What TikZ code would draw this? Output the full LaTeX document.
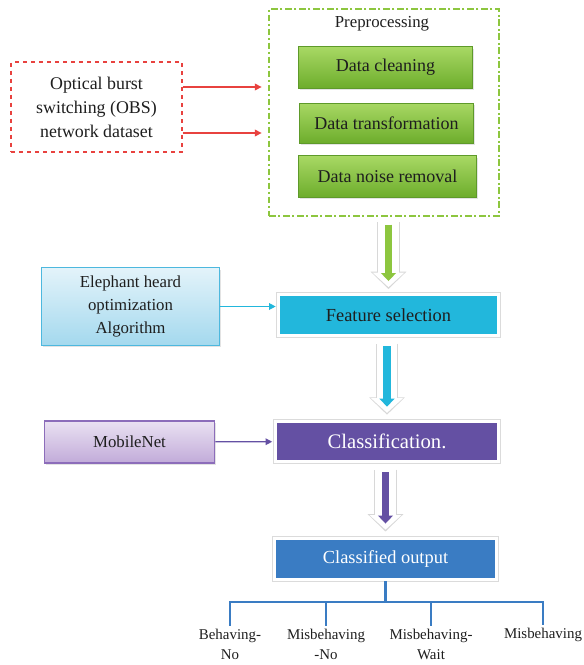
\documentclass[tikz,border=0pt]{standalone}
\usepackage{fontspec}
\setmainfont{Liberation Serif}
\usetikzlibrary{
  arrows.meta, % For arrow tips
  shadows % For the drop shadows of the boxes
}

\definecolor{ink}{HTML}{1E1E1E}
\definecolor{obsred}{HTML}{E8423F}
\definecolor{prelime}{HTML}{8DC63F}
\definecolor{greentop}{HTML}{A8D864}
\definecolor{greenbot}{HTML}{6DAD2C}
\definecolor{greenedge}{HTML}{5E9A2A}
\definecolor{skytop}{HTML}{E3F3FA}
\definecolor{skybot}{HTML}{A4D9EE}
\definecolor{skyedge}{HTML}{4DB8DE}
\definecolor{featcyan}{HTML}{22B7DC}
\definecolor{lilactop}{HTML}{EAE1F2}
\definecolor{lilacbot}{HTML}{C1ABD9}
\definecolor{lilacedge}{HTML}{8C6DBA}
\definecolor{classpurple}{HTML}{6450A3}
\definecolor{outblue}{HTML}{3A7CC3}
\definecolor{hollowgray}{HTML}{D8D8D8}

\begin{document}
\begin{tikzpicture}[
    x=0.75pt, y=-0.75pt, % one unit is one pixel of the layout
    >={Triangle[length=5pt,width=5pt]}, % Default arrow tip
    box/.style={align=center, text=ink, inner sep=2pt},
    shade/.style={drop shadow={shadow xshift=1pt, shadow yshift=-1.3pt, opacity=.18, fill=black!60}},
    stepbox/.style={box, shade, draw=greenedge, line width=0.6pt, top color=greentop, bottom color=greenbot,
      font=\fontsize{13.5}{16}\selectfont},
    mainbox/.style={box, shade, draw=white, line width=2.2pt, fill=#1,
      preaction={draw=black!14, line width=3.6pt},
      font=\fontsize{13.8}{16}\selectfont},
    sidearrow/.style={->, line width=0.9pt},
    hollow/.style={draw=hollowgray, line width=17pt, -{Triangle[length=13pt,width=26pt]},
      postaction={draw=white, line width=15.4pt, shorten >=1.4pt, -{Triangle[length=11pt,width=23.4pt]}},
      postaction={draw=#1, line width=5.5pt, shorten <=2pt, shorten >=6pt, -{Triangle[length=6pt,width=11pt]}}},
    tree/.style={outblue, line width=1.6pt},
    leaf/.style={box, inner sep=0pt, font=\fontsize{11.2}{15}\selectfont},
  ]
  \useasboundingbox (0,0) rectangle (584,665);

  % Dataset
  \node[box, draw=obsred, dashed, line width=1.1pt, minimum width=128pt, minimum height=67.5pt,
    font=\fontsize{13.4}{18}\selectfont] (data) at (96.5,107)
    {Optical burst\\switching (OBS)\\network dataset};

  % Preprocessing group
  \node[draw=prelime, line width=1.1pt, dash pattern=on 5pt off 2pt on 1.5pt off 2pt,
    minimum width=172.5pt, minimum height=155pt] (pre) at (384,112.5) {};
  \node[box, font=\fontsize{12.6}{15}\selectfont] (prelabel) at (382,24) {Preprocessing};
  \node[stepbox, minimum width=131pt, minimum height=31pt] (clean) at (385.5,67.5) {Data cleaning};
  \node[stepbox, minimum width=131pt, minimum height=30pt] (trans) at (386.5,123) {Data transformation};
  \node[stepbox, minimum width=133pt, minimum height=31pt] (noise) at (387.5,176.5) {Data noise removal};

  \draw[sidearrow, obsred, shorten >=5pt] ([yshift=15pt]data.east) -- ([yshift=15pt]data.east -| pre.west);
  \draw[sidearrow, obsred, shorten >=5pt] ([yshift=-19.5pt]data.east) -- ([yshift=-19.5pt]data.east -| pre.west);

  % Feature selection
  \node[box, shade, draw=skyedge, line width=0.8pt, top color=skytop, bottom color=skybot,
    minimum width=133pt, minimum height=58pt, font=\fontsize{12.6}{17.6}\selectfont] (eho) at (130.5,306.5)
    {Elephant heard\\optimization\\Algorithm};
  \node[mainbox=featcyan, minimum width=165pt, minimum height=30.75pt] (feat) at (388.5,315) {Feature selection};

  \draw[sidearrow, featcyan, shorten >=1pt] (eho.east) -- (eho.east -| feat.west);
  \draw[hollow=prelime] ([yshift=-4pt]pre.south -| feat.north) -- ([yshift=3pt]feat.north);

  % Classification
  \node[box, shade, draw=lilacedge, line width=0.8pt, top color=lilactop, bottom color=lilacbot,
    minimum width=128pt, minimum height=31.5pt, font=\fontsize{12.6}{15}\selectfont] (mobile) at (129.5,442) {MobileNet};
  \node[mainbox=classpurple, text=white, minimum width=167pt, minimum height=30pt,
    font=\fontsize{15.5}{18}\selectfont] (classif) at (387,441.5) {Classification.};

  \draw[sidearrow, classpurple, shorten >=1.5pt] (mobile) -- (classif);
  \draw[hollow=featcyan] ([yshift=-5pt]feat.south -| classif.north) -- ([yshift=4pt]classif.north);

  % Output
  \node[mainbox=outblue, text=white, minimum width=166.5pt, minimum height=31pt] (output) at (385.5,559) {Classified output};
  \draw[hollow=classpurple] ([yshift=-5pt]classif.south -| output.north) -- ([yshift=4pt]output.north);

  \node[leaf] (l1) at (230,644) {Behaving-\\No};
  \node[leaf] (l2) at (326,644) {Misbehaving\\-No};
  \node[leaf] (l3) at (431,644) {Misbehaving-\\Wait};
  \node[leaf] (l4) at (543,635) {Misbehaving};

  \coordinate (split) at (385.5,602);
  \draw[tree] (output.south) -- (split);
  \draw[tree] ([yshift=2pt]l1.north) |- (split) -| ([yshift=2pt]l4.north);
  \foreach \n in {l2,l3}
    \draw[tree] ([yshift=2pt]\n.north) -- (\n.north |- split);

\end{tikzpicture}
\end{document}
